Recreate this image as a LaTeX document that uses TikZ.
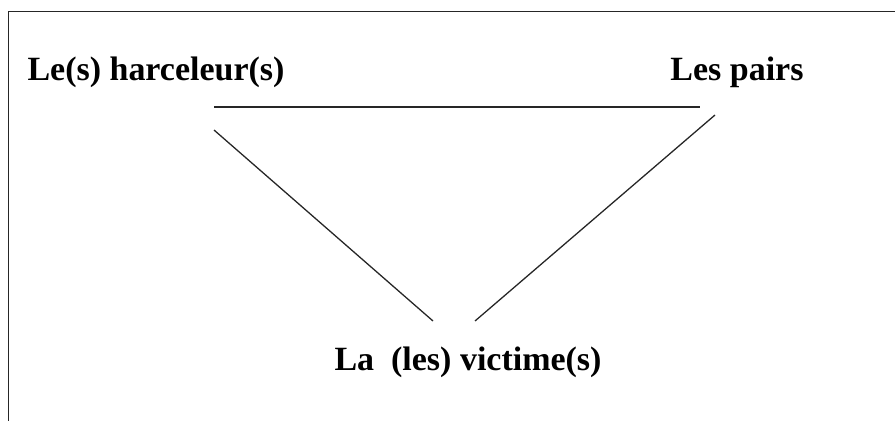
\documentclass[tikz,border=0pt]{standalone}
\usepackage{fontspec}
\setmainfont{Liberation Serif}
\usetikzlibrary{positioning}
\tikzset{
  % actor labels
  role/.style={
    anchor=base, inner sep=0pt, font=\fontsize{29}{34}\selectfont\bfseries
  },
  % triangle sides
  link/.style={
    -, line width=1.1pt, black!85
  },
  % frame of the box
  frameline/.style={
    line width=0.8pt, black!85
  },
}
\begin{document}
\begin{tikzpicture}[x=0.03cm, y=-0.03cm]

  \useasboundingbox (0,0) rectangle (895,421);

  %% -- Frame (top and left only) --
  \draw[frameline] (8.5,430) -- (8.5,11) -- (900,11);

  %% -- Roles --
  \node[role] (harceleur) at (156,80)  {Le(s) harceleur(s)};
  \node[role] (pairs)     at (737,80)  {Les pairs};
  \node[role] (victime)   at (468,370) {La~~(les) victime(s)};

  %% -- Line ends --
  \coordinate (hA) at (214,107);
  \coordinate (pA) at (700,107);
  \coordinate (hB) at (214,130);
  \coordinate (pB) at (715,115);
  \coordinate (vL) at (433,321);
  \coordinate (vR) at (475,321);

  %% -- Sides --
  \draw[link] (hA) -- (pA);
  \draw[link] (hB) -- (vL);
  \draw[link] (pB) -- (vR);

\end{tikzpicture}
\end{document}
